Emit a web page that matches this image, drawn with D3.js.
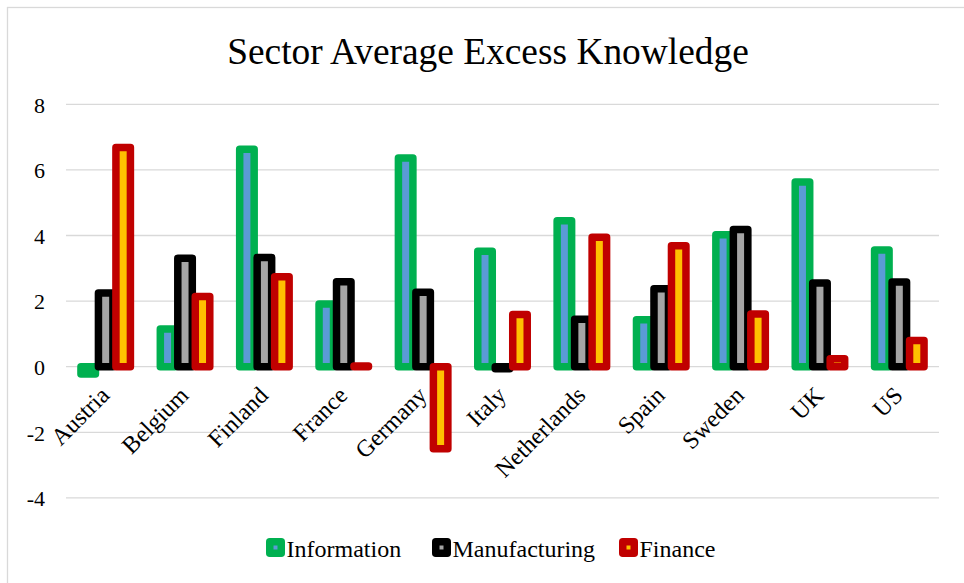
<!DOCTYPE html>
<html>
<head>
<meta charset="utf-8">
<script src="https://cdn.jsdelivr.net/npm/d3@7"></script>
<style>
  html, body { margin: 0; padding: 0; background: #fff; }
  svg { display: block; font-family: "Liberation Serif", "Times New Roman", serif; }
</style>
</head>
<body>
<svg id="chart" width="964" height="583"></svg>
<script>
// Country groups along the x axis
const countries = ["Austria", "Belgium", "Finland", "France", "Germany", "Italy",
                   "Netherlands", "Spain", "Sweden", "UK", "US"];

// Sector averages per country
const information   = [-0.22, 1.15, 6.63, 1.91, 6.36, 3.52, 4.45, 1.43, 4.02, 5.63, 3.56];
const manufacturing = [2.25, 3.31, 3.33, 2.59, 2.27, -0.06, 1.45, 2.38, 4.18, 2.55, 2.58];
const finance       = [6.68, 2.14, 2.74, 0.02, -2.5, 1.59, 3.95, 3.69, 1.61, 0.24, 0.8];

const seriesNames = ["Information", "Manufacturing", "Finance"];
const yTicks = [-4, -2, 0, 2, 4, 6, 8];

// Outline / inner colour per sector
const outline = { Information: "#00B050", Manufacturing: "#000000", Finance: "#C00000" };
const inner   = { Information: "#5B9BD5", Manufacturing: "#A5A5A5", Finance: "#FFC000" };

const series = [
  { name: "Information",   values: information },
  { name: "Manufacturing", values: manufacturing },
  { name: "Finance",       values: finance }
];

const svg = d3.select("#chart");
const plot = { left: 66, right: 939, top: 104.3, bottom: 497.9 };

// outer chart frame
svg.append("rect")
  .attr("x", 7.5).attr("y", 7.5)
  .attr("width", 962).attr("height", 585)
  .attr("fill", "none").attr("stroke", "#D9D9D9").attr("stroke-width", 1.3);

const y = d3.scaleLinear().domain([-4, 8]).range([plot.bottom, plot.top]);

const x0 = d3.scaleBand().domain(countries)
  .range([plot.left, plot.right])
  .paddingInner(0.339).paddingOuter(0.1695);

const x1 = d3.scaleBand().domain(seriesNames)
  .range([0, x0.bandwidth()]).padding(0);

// title
svg.append("text")
  .attr("x", 488).attr("y", 64)
  .attr("text-anchor", "middle")
  .attr("font-size", 37.4).attr("fill", "#000")
  .text("Sector Average Excess Knowledge");

// horizontal gridlines
svg.append("g").selectAll("line").data(yTicks).join("line")
  .attr("x1", plot.left).attr("x2", plot.right)
  .attr("y1", d => y(d)).attr("y2", d => y(d))
  .attr("stroke", "#D9D9D9").attr("stroke-width", 1.3);

// y axis labels (plain hyphen for negatives)
const yAxis = d3.axisLeft(y).tickValues(yTicks).tickSize(0).tickPadding(0)
  .tickFormat(d => String(d));
svg.append("g")
  .attr("transform", `translate(45,0)`)
  .call(yAxis)
  .call(g => g.select(".domain").remove())
  .call(g => g.selectAll("text")
    .attr("font-family", "Liberation Serif, serif")
    .attr("font-size", 22).attr("fill", "#000").attr("dy", "0.35em"));

// bars: thick sector-coloured outline around a narrow inner fill
const barW = 14.5, sw = 7.5;
const groups = svg.append("g").selectAll("g").data(series).join("g");
groups.selectAll("rect")
  .data(s => s.values.map((v, i) => ({ name: s.name, v, c: countries[i] })))
  .join("rect")
  .attr("x", d => x0(d.c) + x1(d.name) + (x1.bandwidth() - barW) / 2)
  .attr("width", barW)
  .attr("y", d => Math.min(y(d.v), y(0)))
  .attr("height", d => Math.abs(y(d.v) - y(0)))
  .attr("fill", d => inner[d.name])
  .attr("stroke", d => outline[d.name])
  .attr("stroke-width", sw)
  .attr("stroke-linejoin", "round");

// category labels, rotated
const xAxis = d3.axisBottom(x0).tickSize(0).tickPadding(0);
svg.append("g")
  .attr("transform", `translate(0,${y(0)})`)
  .call(xAxis)
  .call(g => g.select(".domain").remove())
  .call(g => g.selectAll("text")
    .attr("font-family", "Liberation Serif, serif")
    .attr("font-size", 24).attr("fill", "#000")
    .attr("text-anchor", "end")
    .attr("dy", null)
    .attr("transform", "translate(5,30) rotate(-45)"));

// legend
const legendItems = [
  { name: "Information", x: 266 },
  { name: "Manufacturing", x: 432 },
  { name: "Finance", x: 619 }
];
const lg = svg.append("g").selectAll("g").data(legendItems).join("g")
  .attr("transform", d => `translate(${d.x},538)`);
lg.append("rect")
  .attr("x", 3.75).attr("y", 3.75).attr("width", 11.5).attr("height", 11.5)
  .attr("fill", d => inner[d.name]).attr("stroke", d => outline[d.name])
  .attr("stroke-width", 7.5).attr("stroke-linejoin", "round");
lg.append("text")
  .attr("x", 20.5).attr("y", 19)
  .attr("font-size", 24).attr("fill", "#000")
  .text(d => d.name);
</script>
</body>
</html>
